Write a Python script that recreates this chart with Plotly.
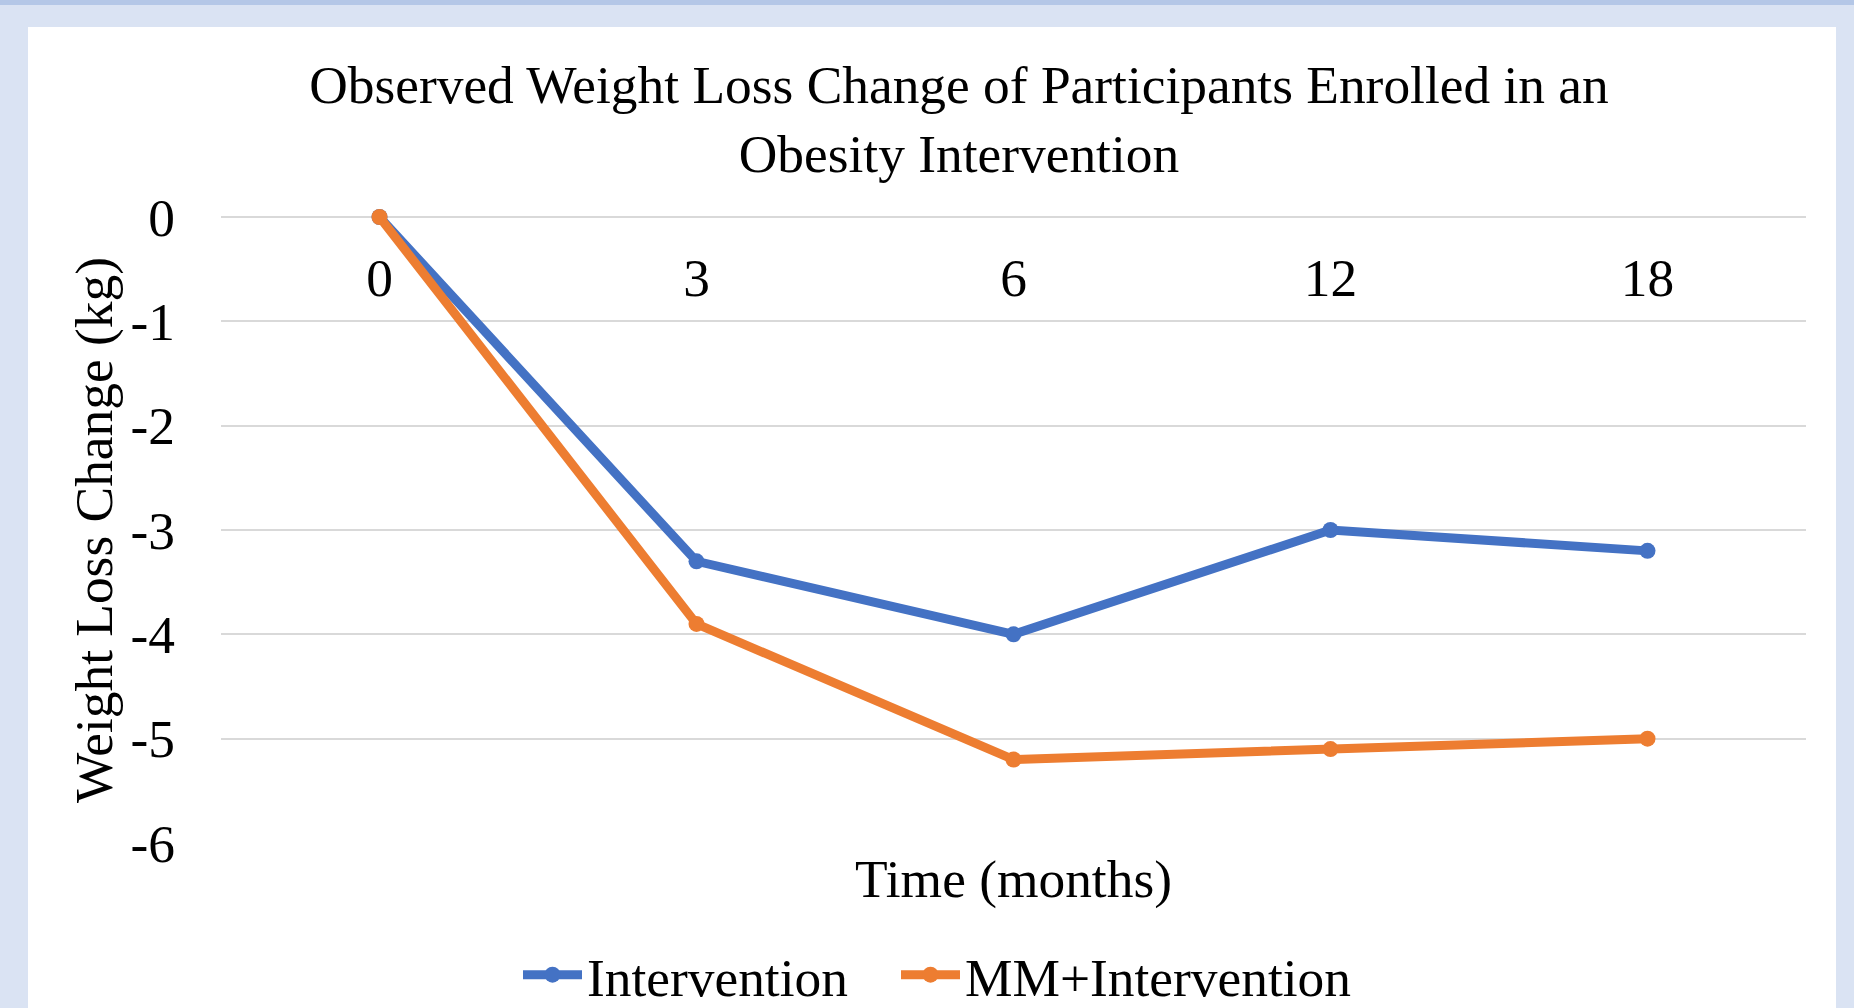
import plotly.graph_objects as go

# ---- data ----
months = ["0", "3", "6", "12", "18"]
intervention = [0, -3.3, -4.0, -3.0, -3.2]
mm_intervention = [0, -3.9, -5.2, -5.1, -5.0]
y_tick_vals = [0, -1, -2, -3, -4, -5, -6]
y_tick_text = ["0", "-1", "-2", "-3", "-4", "-5", "-6"]

title_text = "Observed Weight Loss Change of Participants Enrolled in an<br>Obesity Intervention"
x_title = "Time (months)"
y_title = "Weight Loss Change (kg)"

FONT = "Times New Roman, Liberation Serif, Tinos, serif"
FS = 53.4
BLUE = "#4472C4"
ORANGE = "#ED7D31"

W, H = 1854, 1008
L, R, T, B = 221, 48, 217, 165
pw, ph = W - L - R, H - T - B


def px_x(p):
    return (p - L) / pw


def px_y(p):
    return (H - B - p) / ph


idx = list(range(len(months)))
xr = [-0.5, len(months) - 0.5]
tf = dict(family=FONT, size=FS, color="black")

fig = go.Figure()
fig.add_trace(go.Scatter(
    x=idx, y=intervention, name="Intervention", mode="lines+markers",
    line=dict(color=BLUE, width=9), marker=dict(color=BLUE, size=16),
    cliponaxis=False, xaxis="x", yaxis="y", legend="legend",
))
fig.add_trace(go.Scatter(
    x=idx, y=mm_intervention, name="MM+Intervention", mode="lines+markers",
    line=dict(color=ORANGE, width=9), marker=dict(color=ORANGE, size=16),
    cliponaxis=False, xaxis="x2", yaxis="y", legend="legend2",
))

leg_common = dict(orientation="h", yanchor="middle", xanchor="left",
                  itemwidth=59, font=tf, bgcolor="rgba(0,0,0,0)",
                  borderwidth=0)

fig.update_layout(
    width=W, height=H, autosize=False,
    margin=dict(l=L, r=R, t=T, b=B, pad=0, autoexpand=False),
    paper_bgcolor="#dae3f3",
    plot_bgcolor="white",
    font=tf,
    title=dict(text=title_text, x=959 / W, xanchor="center", xref="container",
               y=1 - 103 / H, yanchor="top", yref="container", font=tf),
    showlegend=True,
    legend=dict(x=px_x(518), y=px_y(975), **leg_common),
    legend2=dict(x=px_x(896), y=px_y(975), **leg_common),
    xaxis=dict(range=xr, showticklabels=False,
               showgrid=False, zeroline=False, showline=False, ticks="",
               title=dict(text=x_title, standoff=16, font=tf),
               automargin=False, fixedrange=True),
    xaxis2=dict(overlaying="x", anchor="free", position=1, side="bottom",
                range=xr, tickvals=idx, ticktext=months,
                ticklabelstandoff=25,
                showgrid=False, zeroline=False, showline=False, ticks="",
                tickfont=tf, automargin=False, fixedrange=True),
    yaxis=dict(range=[-6, 0], tickvals=y_tick_vals, ticktext=y_tick_text,
               showgrid=True, gridcolor="#d9d9d9", gridwidth=1.5,
               zeroline=True, zerolinecolor="#d9d9d9", zerolinewidth=1.5,
               showline=False, ticks="", ticklabelstandoff=45,
               tickfont=tf,
               title=dict(text=y_title, standoff=0, font=tf),
               automargin=False, fixedrange=True),
    shapes=[
        dict(type="rect", xref="paper", yref="paper", layer="below",
             x0=px_x(28), x1=px_x(1836), y0=px_y(1030), y1=px_y(27),
             fillcolor="white", line=dict(width=0)),
        dict(type="rect", xref="paper", yref="paper", layer="below",
             x0=px_x(-20), x1=px_x(1880), y0=px_y(5), y1=px_y(-20),
             fillcolor="#b4c7e7", line=dict(width=0)),
    ],
)

fig.write_html("out.html", config={"displayModeBar": False},
               post_script="document.body.style.margin='0';document.body.style.overflow='hidden';")
